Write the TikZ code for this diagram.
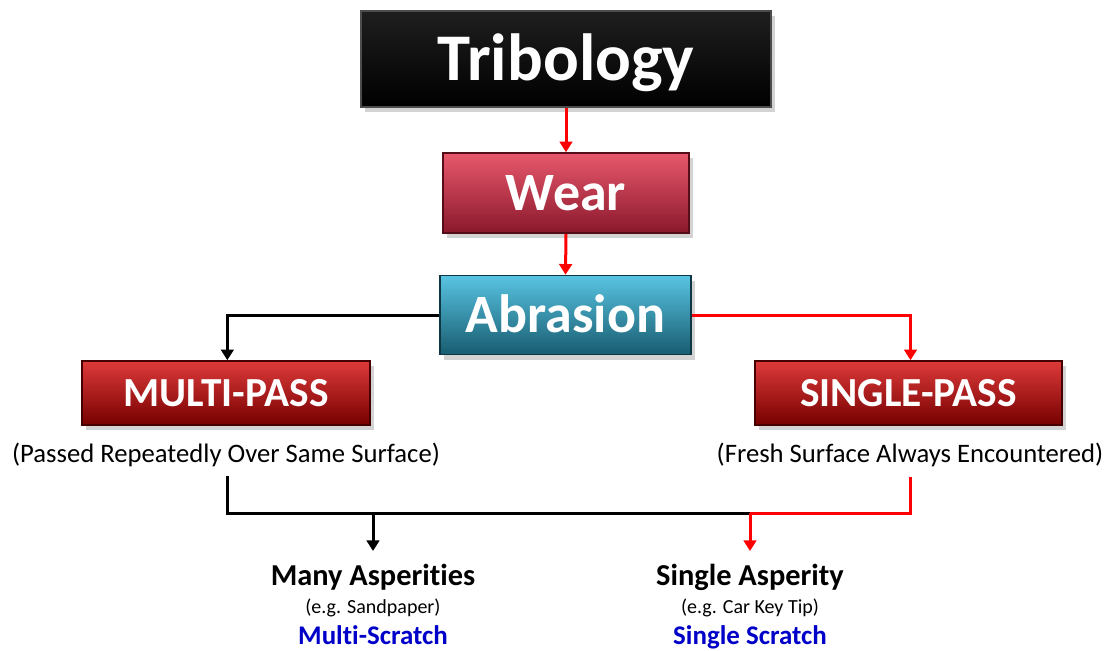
\documentclass[tikz,border=0pt]{standalone}
\usepackage{fontspec}
\setmainfont{Carlito}[Ligatures=NoCommon]
\usetikzlibrary{arrows.meta,shadows}
\definecolor{wtop}{RGB}{232,88,108}
\definecolor{wbot}{RGB}{138,24,44}
\definecolor{atop}{RGB}{88,196,226}
\definecolor{abot}{RGB}{24,92,112}
\definecolor{mtop}{RGB}{222,58,58}
\definecolor{mbot}{RGB}{118,0,0}
\definecolor{lred}{RGB}{255,0,0}
\definecolor{scr}{RGB}{0,0,200}
\tikzset{
  x=0.75pt, y=-0.75pt,
  boxbase/.style={draw, line width=1.2pt, inner sep=0pt, text=white, text depth=0pt,
     drop shadow={opacity=0.35, shadow xshift=3pt, shadow yshift=-4pt}},
  tribbox/.style={boxbase, draw=black!70, top color=black!88, bottom color=black,
     minimum width=307.5pt, minimum height=72pt, text height=32pt,
     font=\fontsize{50}{56}\selectfont\bfseries},
  wearbox/.style={boxbase, draw=wbot!60!black, top color=wtop, bottom color=wbot,
     minimum width=184.5pt, minimum height=60pt, text height=26pt,
     font=\fontsize{40.5}{46}\selectfont\bfseries},
  abrbox/.style={boxbase, draw=abot!60!black, top color=atop, bottom color=abot,
     minimum width=188.25pt, minimum height=59.25pt, text height=26pt,
     font=\fontsize{40.5}{46}\selectfont\bfseries},
  passbox/.style={boxbase, draw=mbot!60!black, top color=mtop, bottom color=mbot,
     minimum height=48pt, text height=20pt, font=\fontsize{31}{36}\selectfont\bfseries},
  caption/.style={inner sep=0pt, anchor=base, font=\fontsize{20}{24}\selectfont},
  headtxt/.style={inner sep=0pt, anchor=base, font=\fontsize{22.8}{27}\selectfont\bfseries},
  egtxt/.style={inner sep=0pt, anchor=base, font=\fontsize{15}{18}\selectfont},
  scrtxt/.style={inner sep=0pt, anchor=base, text=scr, font=\fontsize{20.2}{24}\selectfont\bfseries},
  conn/.style={line width=2.25pt, -{Triangle[width=9.5pt,length=8pt]}},
  plain/.style={line width=2.25pt},
}
\begin{document}
\begin{tikzpicture}
\useasboundingbox (0,0) rectangle (1110,650);
\node[tribbox] (trib) at (566,59) {Tribology};
\node[wearbox] (wear) at (566,193) {Wear};
\node[abrbox] (abr) at (565.5,315) {Abrasion};
\node[passbox, minimum width=216pt] (multi) at (226,393) {MULTI-PASS};
\node[passbox, minimum width=230.25pt] (single) at (908.5,393) {SINGLE-PASS};
\node[caption] (mcap) at (226,462) {(Passed Repeatedly Over Same Surface)};
\node[caption] (scap) at (910,462) {(Fresh Surface Always Encountered)};
\node[headtxt] (many) at (373,585) {Many Asperities};
\node[egtxt] (sand) at (373,613) {(e.g. Sandpaper)};
\node[scrtxt] (mscr) at (373,644) {Multi-Scratch};
\node[headtxt] (sing) at (750,585) {Single Asperity};
\node[egtxt] (car) at (750,613) {(e.g. Car Key Tip)};
\node[scrtxt] (sscr) at (750,644) {Single Scratch};
\coordinate (mdrop) at (227,477);
\coordinate (sdrop) at (910,477);
\coordinate (jl) at (227,513);
\coordinate (jm) at (373,513);
\coordinate (jr) at (750,513);
\coordinate (tipm) at (373,551);
\coordinate (tips) at (750,551);
\draw[conn, draw=lred, fill=lred] (trib.south) -- (wear.north);
\draw[conn, draw=lred, fill=lred] (wear.south) -- (abr.north);
\draw[conn, draw=black] (abr.west) -| ([xshift=1pt]multi.north);
\draw[conn, draw=lred] (abr.east) -| ([xshift=1.5pt]single.north);
\draw[plain, draw=black, line cap=rect] (mdrop) -- (jl) -- (jr);
\draw[plain, draw=lred] (sdrop) |- (jr);
\draw[conn, draw=black] (jm) -- (tipm);
\draw[conn, draw=lred] (jr) -- (tips);
\end{tikzpicture}
\end{document}
